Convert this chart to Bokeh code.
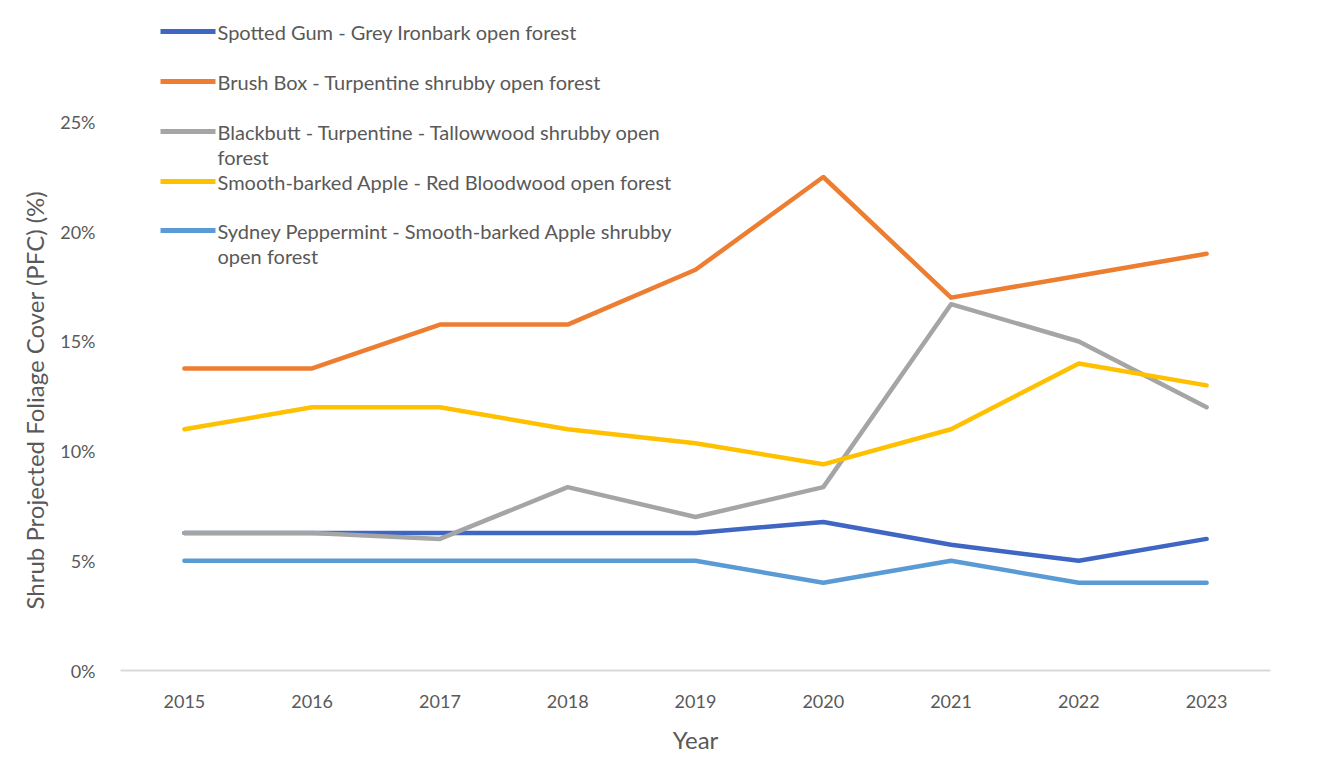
from bokeh.plotting import figure
from bokeh.models import FactorRange, Range1d, FixedTicker, Label, BoxAnnotation, Title
from bokeh.embed import file_html
from bokeh.resources import INLINE

years = ["2015", "2016", "2017", "2018", "2019", "2020", "2021", "2022", "2023"]
spotted_gum = [6.27, 6.27, 6.27, 6.27, 6.27, 6.77, 5.73, 5.0, 6.0]
brush_box = [13.77, 13.77, 15.77, 15.77, 18.27, 22.5, 17.0, 18.0, 19.0]
blackbutt = [6.27, 6.27, 6.0, 8.36, 7.0, 8.36, 16.7, 15.0, 12.0]
smooth_apple = [11.0, 12.0, 12.0, 11.0, 10.36, 9.4, 11.0, 14.0, 13.0]
sydney_pepp = [5.0, 5.0, 5.0, 5.0, 5.0, 4.0, 5.0, 4.0, 4.0]

series_names = [
    "Spotted Gum - Grey Ironbark open forest",
    "Brush Box - Turpentine shrubby open forest",
    "Blackbutt - Turpentine - Tallowwood shrubby open\nforest",
    "Smooth-barked Apple - Red Bloodwood open forest",
    "Sydney Peppermint - Smooth-barked Apple shrubby\nopen forest",
]
series_values = [spotted_gum, brush_box, blackbutt, smooth_apple, sydney_pepp]
colors = ["#3F66C2", "#ED7D31", "#A5A5A5", "#FFC000", "#5B9BD5"]
y_ticks = [0, 5, 10, 15, 20, 25]

FONT = "Lato"
TXT = "#595959"

p = figure(
    width=1319, height=756,
    x_range=FactorRange(*years),
    y_range=Range1d(0, 662 / 22),
    output_backend="svg", toolbar_location=None,
    min_border_left=120, min_border_right=49,
    min_border_top=10, min_border_bottom=84,
)
p.outline_line_color = None
p.xgrid.visible = False
p.ygrid.visible = False

# draw order: light blue, dark blue, grey, yellow, orange on top
order = [4, 0, 2, 3, 1]
for i in order:
    p.line(years, series_values[i], line_color=colors[i], line_width=4.5,
           line_join="round", line_cap="round")

# axes
for ax in (p.xaxis, p.yaxis):
    ax.major_tick_line_color = None
    ax.minor_tick_line_color = None
    ax.major_tick_out = 0
    ax.major_tick_in = 0
    ax.minor_tick_out = 0
    ax.major_label_text_font = FONT
    ax.major_label_text_font_size = "18px"
    ax.major_label_text_color = TXT
    ax.axis_label_text_font = FONT
    ax.axis_label_text_font_size = "24px"
    ax.axis_label_text_font_style = "normal"
    ax.axis_label_text_color = TXT

p.xaxis.axis_line_color = "#D9D9D9"
p.xaxis.axis_line_width = 2
p.xaxis.major_label_standoff = 24
p.xaxis.axis_label = "Year"
p.xaxis.axis_label_standoff = 14

p.yaxis.ticker = FixedTicker(ticks=y_ticks)
p.yaxis.major_label_overrides = {t: f"{t}%" for t in y_ticks}
p.yaxis.axis_line_color = None
p.yaxis.major_label_standoff = 25

# y-axis title centred on the 0-25% span (as in the original), not on the frame
ytitle = Title(text="Shrub Projected Foliage Cover (PFC) (%)", align="left",
               offset=61, text_font=FONT, text_font_size="24px",
               text_font_style="normal", text_color=TXT, standoff=18)
p.add_layout(ytitle, "left")

# legend drawn manually (Excel style: first line aligned with sample)
row_y = [639, 589, 539, 489, 440]
line_gap = 25
for name, col, ry in zip(series_names, colors, row_y):
    p.add_layout(BoxAnnotation(left=40, right=95, bottom=ry - 2.5, top=ry + 2.5,
                               left_units="screen", right_units="screen",
                               bottom_units="screen", top_units="screen",
                               fill_color=col, fill_alpha=1, line_color=None))
    for k, part in enumerate(name.split("\n")):
        p.add_layout(Label(x=97, y=ry - k * line_gap, x_units="screen", y_units="screen",
                           text=part, text_font=FONT, text_font_size="20px",
                           text_color=TXT, text_baseline="middle", text_align="left"))

open("out.html", "w").write(file_html(p, INLINE))
